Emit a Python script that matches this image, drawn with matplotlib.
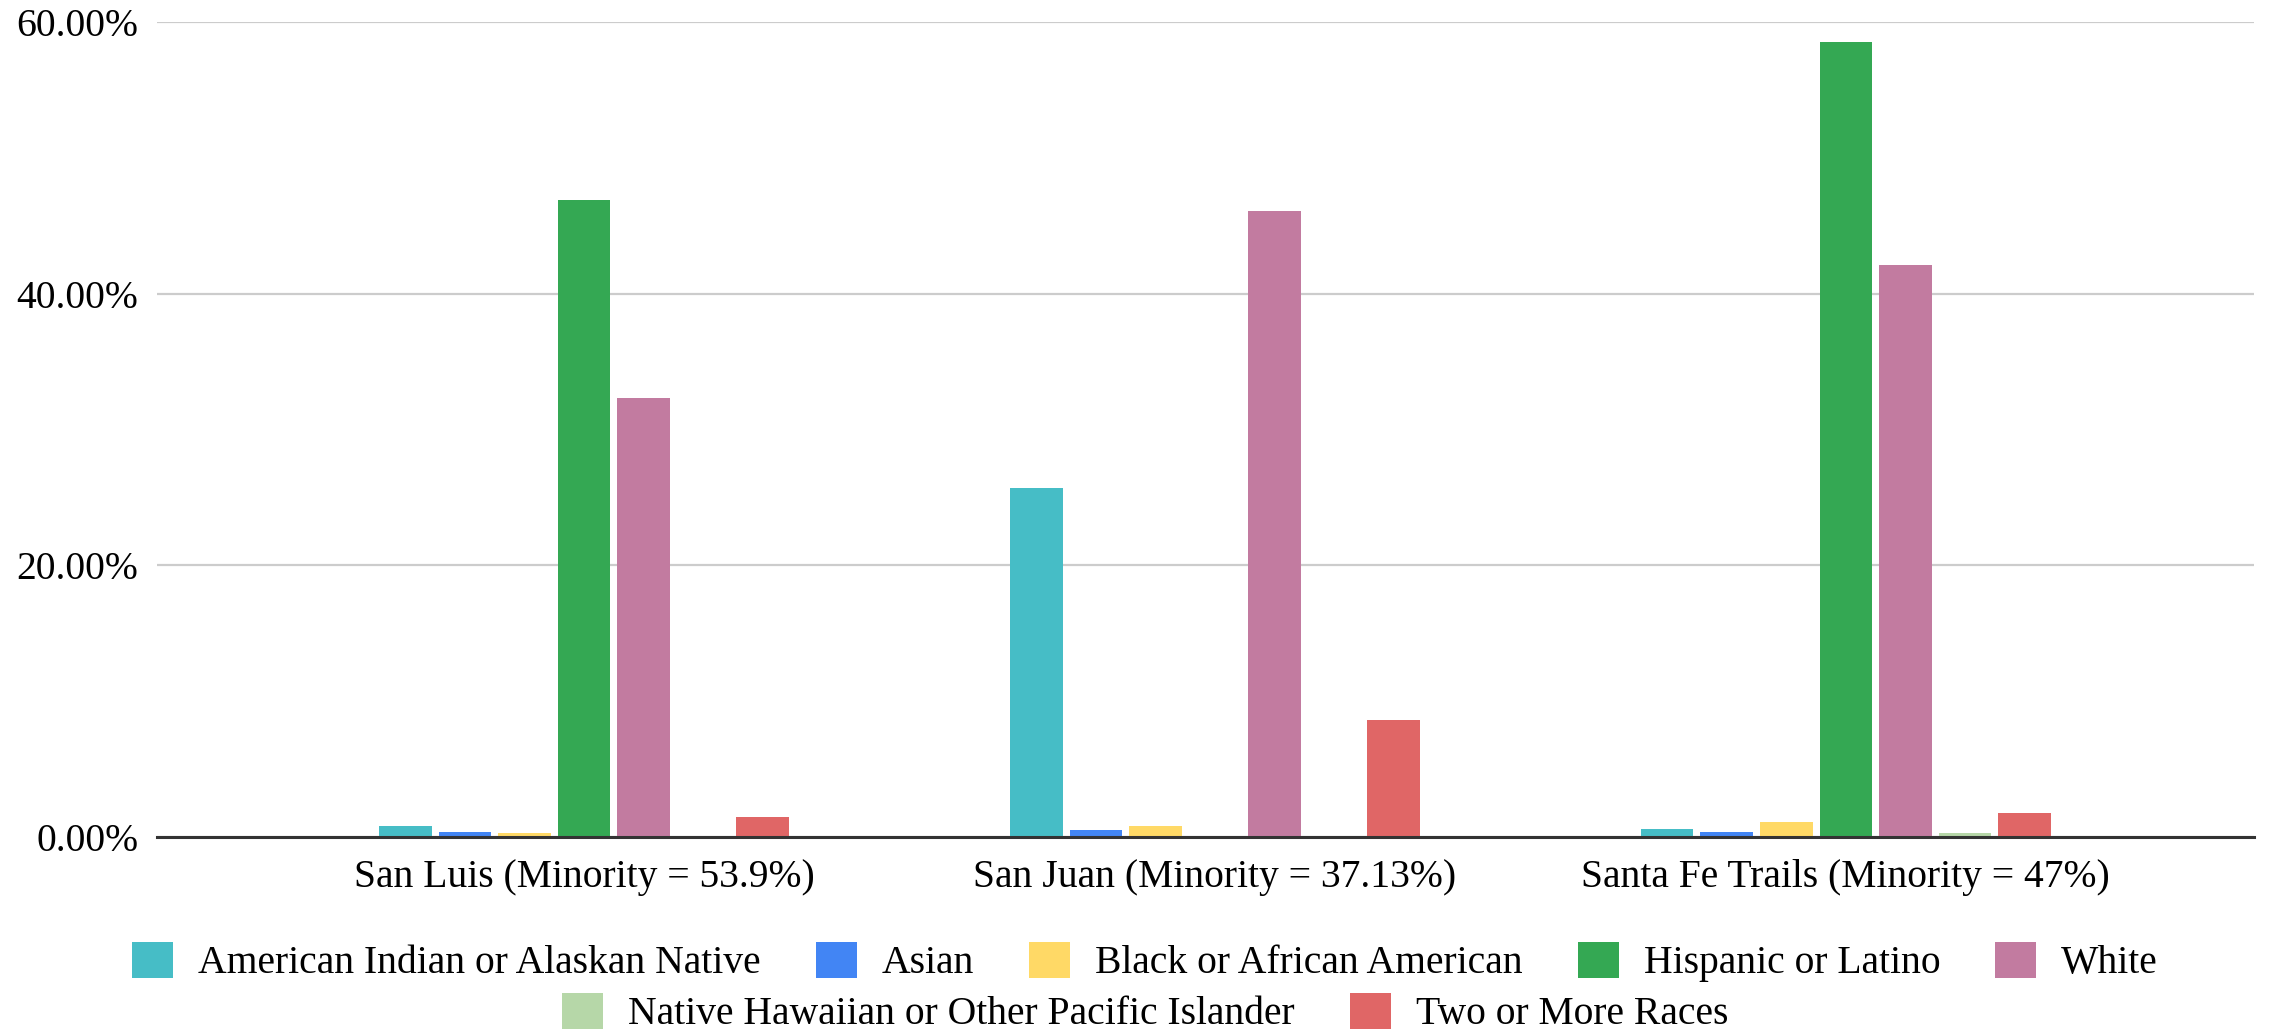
import matplotlib
matplotlib.use("Agg")
import matplotlib.pyplot as plt
import numpy as np
from matplotlib.ticker import FuncFormatter

categories = ["San Luis (Minority = 53.9%)", "San Juan (Minority = 37.13%)",
              "Santa Fe Trails (Minority = 47%)"]
series_names = ["American Indian or Alaskan Native", "Asian", "Black or African American",
                "Hispanic or Latino", "White", "Native Hawaiian or Other Pacific Islander",
                "Two or More Races"]
american_indian = [0.8, 25.7, 0.6]
asian = [0.4, 0.55, 0.35]
black = [0.3, 0.8, 1.1]
hispanic = [46.9, 0.0, 58.5]
white = [32.3, 46.1, 42.1]
native_hawaiian = [0.0, 0.0, 0.3]
two_or_more = [1.5, 8.6, 1.8]
series_values = [american_indian, asian, black, hispanic, white, native_hawaiian, two_or_more]
colors = ["#46BDC6", "#4285F4", "#FFD966", "#34A853", "#C27BA0", "#B6D7A8", "#E06666"]
yticks = [0, 20, 40, 60]

plt.rcParams['font.family'] = ['Liberation Serif', 'DejaVu Serif']
FS = 28.5

fig = plt.figure(figsize=(22.95, 10.35), dpi=100)
ax = fig.add_axes([157/2295, 1-837/1035, (2254-157)/2295, (837-22)/1035])

n = len(series_names)
x = np.arange(len(categories))
slot = 0.0944
bw = slot * 0.884
handles = []
for i, (name, vals, c) in enumerate(zip(series_names, series_values, colors)):
    pos = x + (i - (n - 1) / 2) * slot
    b = ax.bar(pos, vals, width=bw, color=c, label=name, zorder=3, linewidth=0)
    handles.append(b)

ax.set_xlim(-0.677, 2.647)
ax.set_ylim(0, 60)
ax.set_yticks(yticks)
ax.yaxis.set_major_formatter(FuncFormatter(lambda v, p: f"{v:.2f}%"))
ax.grid(axis='y', color='#cccccc', linewidth=1.6, zorder=0)
ax.set_axisbelow(True)
for s in ['top', 'right', 'left']:
    ax.spines[s].set_visible(False)
ax.spines['bottom'].set_color('#333333')
ax.spines['bottom'].set_linewidth(2.2)
ax.spines['bottom'].set_zorder(4)
ax.set_xticks(x)
ax.set_xticklabels(categories, fontsize=FS)
ax.tick_params(axis='x', length=0, pad=16)
ax.tick_params(axis='y', length=0, pad=13.5, labelsize=FS)

fpx = FS * 100 / 72
kw = dict(frameon=False, fontsize=FS, handlelength=41/fpx, handleheight=41/fpx,
          handletextpad=25/fpx, columnspacing=55/fpx, borderaxespad=0, borderpad=0)
leg1 = fig.legend(handles[:5], series_names[:5], ncol=5, loc='center',
                  bbox_to_anchor=(1145/2295, 1-962/1035), **kw)
leg2 = fig.legend(handles[5:], series_names[5:], ncol=2, loc='center',
                  bbox_to_anchor=(1145/2295, 1-1013/1035), **kw)

fig.savefig("out.png", dpi=100, facecolor='white')
